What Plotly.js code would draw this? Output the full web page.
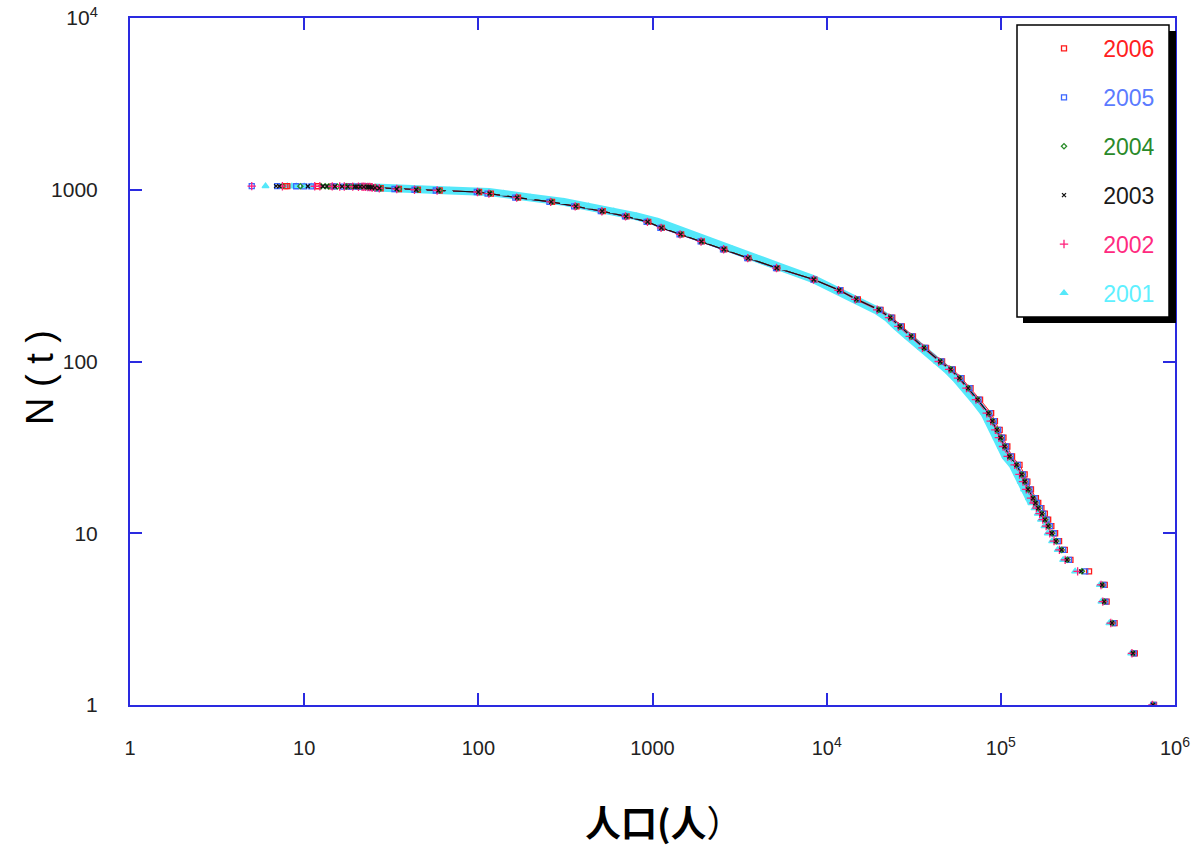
<!DOCTYPE html>
<html>
<head>
<meta charset="utf-8">
<script src="https://cdn.plot.ly/plotly-3.0.1.min.js"></script>
<style>html,body{margin:0;padding:0;background:#fff;}#chart{width:1200px;height:850px;}</style>
</head>
<body>
<div id="chart"></div>
<script>
// Rank N(t) shared by every year (number of places with population >= t)
const RANK = [1,2,3,4,5,6,7,8,9,10,11,12,13,14,15,16,18,20,22,25,28,32,36,40,45,50,60,70,80,90,100,120,140,160,180,200,230,260,300,350,400,450,500,550,600,650,700,750,800,850,900,950,970,990,1000,1010,1020,1025,1030,1036,1037,1038,1039,1040,1041,1042,1043,1044,1045,1046,1047,1048,1049,1050];

// Population t at each rank, per year
const POP_2001 = [735000,560000,420000,378000,370000,267000,228000,212000,197000,186000,178000,170000,163000,156000,150000,145000,136000,130000,125000,117000,106500,100000,94500,90000,85000,80500,70000,62000,55000,49000,43000,34800,29300,25200,22300,19100,14400,11600,8500,5600,3950,2880,2150,1640,1280,1070,810,600,430,310,200,140,115,68,48,36,28,26.5,25.5,24.6,24.2,23.8,23.4,23,22.3,21,19.5,17.6,11,10,9,8.5,8,6];
const POP_2002 = [742000,566000,428000,385000,376000,276000,234000,217000,202000,191000,182000,174000,167000,160000,154000,149000,140000,134000,128000,120000,109500,103000,97500,93000,87500,83000,72000,63500,56800,50500,44000,35500,30000,25800,22800,19500,14600,11700,8400,5150,3520,2560,1900,1440,1120,935,700,512,360,260,166,115,99,58,43,34,27,25.5,24.6,24.3,23.8,23.2,22.5,22,21.5,20.5,19,17,16,14.5,12.3,11.5,7.5,5];
const POP_2003 = [748000,574000,435000,392000,382000,289000,240000,223000,207000,196000,187000,179000,172000,164000,158000,153000,143000,137000,131500,123000,112000,105000,99500,95000,89400,84800,73500,64900,57800,51500,44800,36200,30500,26300,23200,19900,14800,11800,8430,5170,3540,2570,1910,1450,1125,938,705,514,363,262,167,116,100,59,44,34,27,25.5,24.5,24,23.5,23,22,21,20,19.5,17.8,16.5,15,13.5,12.8,10.5,7.2,6.9];
const POP_2004 = [748000,574000,437000,392000,383000,292000,241000,224000,208000,197000,188000,180000,172000,165000,158000,153000,144000,137000,132000,123000,112000,105000,100000,95000,89500,85000,73500,65000,58000,51500,45000,36300,30600,26300,23200,19900,14800,11800,8450,5200,3560,2580,1920,1460,1130,940,708,516,365,264,168,117,101,60,45,35,27.5,26,25,24.4,24,23.5,23,22.5,21.5,20.5,19,17.5,15.5,13.8,13.2,12.5,9.5,7.5];
const POP_2005 = [752000,580000,442000,398000,388000,305000,246000,228000,212000,201000,191000,183000,175000,168000,161000,156000,146000,140000,134000,125000,114000,107000,101500,96500,91000,86000,74500,66000,58800,52300,45500,36700,30900,26600,23500,20100,14900,11900,8400,5120,3500,2540,1890,1430,1110,925,695,505,355,256,163,113,98,57,43,33,26.5,25,24.2,24.2,23.6,23,22.6,22,21.2,20,18.5,16.8,14.8,11,10,9,7,5];
const POP_2006 = [758000,588000,450000,405000,395000,321000,251000,233000,216000,205000,195000,187000,179000,171000,164000,159000,149000,142000,137000,128000,116000,109000,103500,98500,92500,88000,76000,67000,59500,53000,46000,37200,31300,27000,23800,20400,15100,12000,8500,5200,3550,2580,1920,1460,1130,945,710,518,366,265,169,118,101,60,45,35,27.5,26,25,24.8,24.2,23.8,23.4,23,22.6,22,21.5,20.5,18.5,17.8,14.5,12,8,7.8];

const YEARS = ['2001','2002','2003','2004','2005','2006'];
const X_TICKS = [1,10,100,1000,1e4,1e5,1e6];
const X_TICKTEXT = ['1','10','100','1000','10<sup>4</sup>','10<sup>5</sup>','10<sup>6</sup>'];
const Y_TICKS = [1,10,100,1000,1e4];
const Y_TICKTEXT = ['1','10','100','1000','10<sup>4</sup>'];

const POPS = {'2001':POP_2001,'2002':POP_2002,'2003':POP_2003,'2004':POP_2004,'2005':POP_2005,'2006':POP_2006};
const STYLE = {
  '2001': {color:'#55e8fa', text:'#5ef0ff', symbol:'triangle-up', size:6, lw:8, rank:6},
  '2002': {color:'#ff1f7a', text:'#ff2a80', symbol:'cross-thin-open', size:6, lw:1, rank:5},
  '2003': {color:'#111111', text:'#1a1a1a', symbol:'x-thin-open', size:4, lw:1.1, rank:4},
  '2004': {color:'#2a8c2a', text:'#2a8a2a', symbol:'diamond-open', size:4, lw:1, rank:3},
  '2005': {color:'#3a66ff', text:'#5b7bff', symbol:'square-open', size:5, lw:1, rank:2},
  '2006': {color:'#ff1a1a', text:'#ff2020', symbol:'square-open', size:5, lw:1, rank:1}
};
const DRAW_ORDER = ['2001','2006','2005','2004','2002','2003'];

const traces = [];
// continuous band for the dense part of each curve
DRAW_ORDER.forEach(y => {
  const s = STYLE[y];
  traces.push({
    x: POPS[y].slice(14, 59), y: RANK.slice(14, 59),
    type:'scatter', mode:'lines', showlegend:false, hoverinfo:'skip',
    line:{color:s.color, width:s.lw}
  });
});
DRAW_ORDER.forEach(y => {
  const s = STYLE[y];
  traces.push({
    x: POPS[y], y: RANK, type:'scatter', mode:'markers',
    name: '\u00a0\u00a0\u00a0<span style="color:' + s.text + '">' + y + '</span>',
    legendgroup: y, legendrank: s.rank,
    marker:{symbol:s.symbol, size:s.size, color:s.color, line:{color:s.color, width:1.3}}
  });
});

const L = 130, R = 1175, T = 18, B = 705;
const px = v => (v - L) / (R - L);
const py = v => (B - v) / (B - T);

const axisBase = {
  type:'log', showgrid:false, zeroline:false, showline:true,
  linecolor:'#2a2ae0', linewidth:2, mirror:'ticks',
  ticks:'inside', ticklen:12, tickwidth:2, tickcolor:'#2a2ae0'
};

const layout = {
  width:1200, height:850,
  margin:{l:L, r:1200-R, t:T, b:850-B},
  paper_bgcolor:'#fff', plot_bgcolor:'#fff',
  showlegend:true,
  xaxis: Object.assign({}, axisBase, {range:[0,6], tickvals:X_TICKS, ticktext:X_TICKTEXT, ticklabelstandoff:24,
          tickfont:{family:'Arial, Liberation Sans, sans-serif', size:20, color:'#222'}}),
  yaxis: Object.assign({}, axisBase, {range:[0,4], tickvals:Y_TICKS, ticktext:Y_TICKTEXT, ticklabelstandoff:26,
          tickfont:{family:'Arial, Liberation Sans, sans-serif', size:21, color:'#222'}}),
  legend:{x:px(1044), y:py(27), xanchor:'left', yanchor:'top', bgcolor:'rgba(0,0,0,0)', borderwidth:0,
          font:{family:'Arial, Liberation Sans, sans-serif', size:23}, tracegroupgap:16, itemwidth:30},
  shapes:[
    {type:'rect', xref:'paper', yref:'paper', x0:px(1023), x1:px(1176), y0:py(323), y1:py(31), fillcolor:'#000', line:{width:0}, layer:'above'},
    {type:'rect', xref:'paper', yref:'paper', x0:px(1017), x1:px(1169), y0:py(317), y1:py(25), fillcolor:'#fff', line:{color:'#000', width:1.5}, layer:'above'}
  ],
  annotations:[
    {text:'N ( t )', xref:'paper', yref:'paper', x:px(40), y:py(378), xanchor:'center', yanchor:'middle', textangle:-90, showarrow:false,
     font:{family:'Arial, Liberation Sans, sans-serif', size:38, color:'#000'}},
    {text:'<b>人口(人</b>）', xref:'paper', yref:'paper', x:px(664), y:py(821), xanchor:'center', yanchor:'middle', showarrow:false,
     font:{family:'Noto Sans CJK SC, sans-serif', size:36, color:'#000'}}
  ]
};

Plotly.newPlot('chart', traces, layout, {displayModeBar:false, staticPlot:true});
</script>
</body>
</html>
